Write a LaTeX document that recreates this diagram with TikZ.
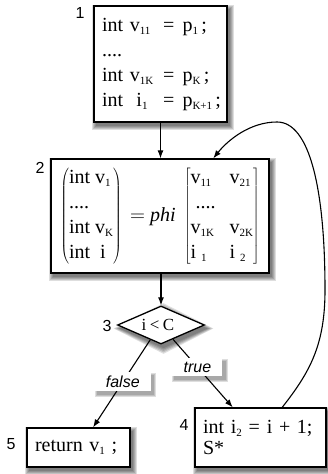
\documentclass[tikz,border=0pt]{standalone}
\usepackage{fontspec}
\setmainfont{Liberation Serif}
\newfontfamily\labelfont{Liberation Sans}
\usetikzlibrary{shapes.geometric,arrows.meta,calc,backgrounds}
\newcommand\sbx[1]{\raisebox{-3pt}{\fontsize{11}{11}\selectfont #1}}
\newcommand\mainfs{\fontsize{20}{25}\selectfont}
\newcommand\softshadow[2]{% node, max spread
  \begin{pgfonlayer}{background}
  \foreach \k in {0,...,#2}{%
    \fill[black,opacity=0.13] ($(#1.south west)+(2.5-\k,3.5+\k)$) rectangle ($(#1.north east)+(2.5+\k,3.5-\k)$);}
  \end{pgfonlayer}}
\newcommand\diashadow[1]{%
  \begin{pgfonlayer}{background}
  \foreach \k in {0,...,4}{%
    \fill[black,opacity=0.13] ($(#1.west)+(2.5-1.4*\k,3.5)$) -- ($(#1.north)+(2.5,3.5-1.4*\k)$) -- ($(#1.east)+(2.5+1.4*\k,3.5)$) -- ($(#1.south)+(2.5,3.5+1.4*\k)$) -- cycle;}
  \end{pgfonlayer}}
\begin{document}
\begin{tikzpicture}[x=1pt,y=-1pt,
  blk/.style={draw=black,line width=1.3pt,fill=white,font=\mainfs},
  tbox/.style={blk,rectangle,inner ysep=0pt,inner xsep=8pt,align=left},
  dia/.style={blk,diamond,inner sep=0pt,font=\fontsize{17}{20}\selectfont},
  num/.style={font=\labelfont\fontsize{16}{16}\selectfont,inner sep=0pt},
  lbl/.style={fill=white,inner sep=0pt,minimum height=19pt,
     font=\labelfont\itshape\fontsize{16}{16}\selectfont},
  arr/.style={line width=1.1pt,-{Latex[length=8pt,width=6pt]}}]
\useasboundingbox (0,0) rectangle (327,474);

\node[tbox,text width=117pt,minimum height=116pt] (b1) at (160.5,64) {%
\begin{tabular}{@{}l@{\hspace{10pt}}c@{\hspace{8pt}}l@{}}
int v\sbx{11} & = & p\sbx{1}\,;\\
....&&\\
int v\sbx{1K} & = & p\sbx{K}\,;\\
int\ \ i\sbx{1} & = & p\sbx{K+1}\,;
\end{tabular}};

\node[blk,rectangle,inner sep=0pt,minimum width=218pt,minimum height=114pt] (b2) at (160,216) {%
$\left(\begin{tabular}{@{}l@{}}int v\sbx{1}\\....\\int v\sbx{K}\\int\ \ i\end{tabular}\right)$
\,$=$ \textit{phi}\,
$\left[\begin{tabular}{@{}l@{\hspace{14pt}}l@{}}v\sbx{11} & v\sbx{21}\\ \ ....&\\ v\sbx{1K} & v\sbx{2K}\\ i \sbx{1} & i \sbx{2}\end{tabular}\right]$};

\node[dia,minimum width=87pt,minimum height=38pt] (d3) at (161,325) {\hspace{-6pt}i\hspace{3.5pt}<\hspace{3.5pt}C};

\node[tbox,text width=115pt,minimum height=59pt,font=\fontsize{20}{21}\selectfont] (b4) at (260.5,437.5) {\mbox{int i\sbx{2} =\hspace{7pt}i + 1;}\\S*};

\node[tbox,text width=87pt,minimum height=39pt] (b5) at (78.5,447.5) {\mbox{return v\sbx{1} ;}};

\node[num] (n1) at (80,12.5) {1};
\node[num] (n2) at (40,168) {2};
\node[num] (n3) at (107,326) {3};
\node[num] (n4) at (184,425) {4};
\node[num] (n5) at (11,444) {5};

\draw[arr] (b1.south) -- (b2.north -| b1.south);
\draw[arr] (b2.south -| d3.north) -- (d3.north);
\draw[arr] (d3.234) -- ($(b5.north west)!0.64!(b5.north east)$)
  node[lbl,pos=0.48,minimum width=56pt] (lf) {false};
\draw[arr] (d3.310) -- ($(b4.north west)!0.29!(b4.north east)$)
  node[lbl,pos=0.41,minimum width=50pt,minimum height=18pt] (lt) {true};

\coordinate (ls) at ($(b4.north west)!0.664!(b4.north east)$);
\coordinate (le) at ($(b2.north west)!0.743!(b2.north east)$);
\draw[arr] (ls) .. controls (310,372) and (325,345) .. (325,290)
  .. controls (325,190) and (310,122) .. (277,122)
  .. controls (250,122) and (228,140) .. (le);

\softshadow{b1}{4}
\softshadow{b2}{4}
\softshadow{b4}{4}
\softshadow{b5}{4}
\diashadow{d3}
\softshadow{lf}{2}
\softshadow{lt}{2}
\end{tikzpicture}
\end{document}
